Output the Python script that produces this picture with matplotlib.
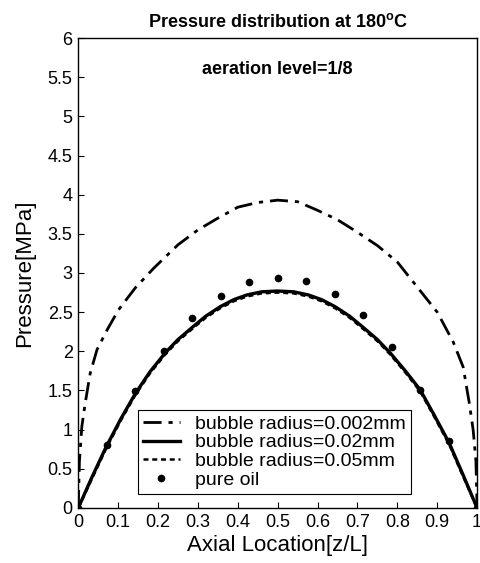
import matplotlib
matplotlib.use("Agg")
import matplotlib.pyplot as plt
from matplotlib.ticker import FixedLocator

plt.rcParams['font.family'] = ['Liberation Sans', 'DejaVu Sans']
plt.rcParams['mathtext.fontset'] = 'custom'
plt.rcParams['mathtext.rm'] = 'Liberation Sans'
plt.rcParams['mathtext.bf'] = 'Liberation Sans:bold'

# bubble radius = 0.002 mm
z_r002 = [0, 0.003, 0.009, 0.0175, 0.03, 0.047, 0.072, 0.101, 0.143, 0.189, 0.25,
          0.3, 0.35, 0.4, 0.45, 0.5, 0.55, 0.6, 0.65, 0.7, 0.75, 0.8, 0.85, 0.9,
          0.94, 0.965, 0.98, 0.99, 0.997, 1.0]
p_r002 = [0, 0.6, 1.04, 1.34, 1.72, 2.02, 2.27, 2.53, 2.81, 3.06, 3.36,
          3.55, 3.7, 3.84, 3.9, 3.93, 3.91, 3.8, 3.68, 3.52, 3.35, 3.14, 2.82, 2.5,
          2.12, 1.8, 1.35, 1.0, 0.6, 0]

# bubble radius = 0.02 mm
z_r02 = [0, 0.035, 0.07, 0.107, 0.143, 0.18, 0.218, 0.25, 0.289, 0.32, 0.356, 0.39,
         0.423, 0.46, 0.5, 0.54, 0.577, 0.61, 0.644, 0.68, 0.711, 0.75, 0.782, 0.82,
         0.857, 0.893, 0.93, 0.965, 1.0]
p_r02 = [0, 0.4, 0.78, 1.14, 1.46, 1.74, 1.98, 2.15, 2.32, 2.45, 2.57, 2.66,
         2.72, 2.76, 2.77, 2.76, 2.72, 2.66, 2.57, 2.45, 2.32, 2.15, 1.98, 1.75,
         1.51, 1.18, 0.83, 0.42, 0]

# bubble radius = 0.05 mm
z_r05 = [0, 0.035, 0.07, 0.107, 0.143, 0.18, 0.218, 0.25, 0.289, 0.32, 0.356, 0.39,
         0.423, 0.46, 0.5, 0.54, 0.577, 0.61, 0.644, 0.68, 0.711, 0.75, 0.782, 0.82,
         0.857, 0.893, 0.93, 0.965, 1.0]
p_r05 = [0, 0.38, 0.76, 1.12, 1.44, 1.72, 1.96, 2.13, 2.3, 2.43, 2.55, 2.64,
         2.7, 2.74, 2.75, 2.74, 2.7, 2.64, 2.55, 2.43, 2.3, 2.13, 1.96, 1.73,
         1.49, 1.16, 0.81, 0.4, 0]

# pure oil
z_oil = [0, 0.0714, 0.1429, 0.2143, 0.2857, 0.3571, 0.4286, 0.5, 0.5714, 0.6429,
         0.7143, 0.7857, 0.8571, 0.9286, 1.0]
p_oil = [0, 0.80, 1.49, 2.0, 2.42, 2.71, 2.88, 2.93, 2.90, 2.73,
         2.46, 2.05, 1.50, 0.85, 0]

x_ticks = [0, 0.1, 0.2, 0.3, 0.4, 0.5, 0.6, 0.7, 0.8, 0.9, 1]
x_tick_labels = ['0', '0.1', '0.2', '0.3', '0.4', '0.5', '0.6', '0.7', '0.8', '0.9', '1']
y_ticks = [0, 0.5, 1, 1.5, 2, 2.5, 3, 3.5, 4, 4.5, 5, 5.5, 6]
y_tick_labels = ['0', '0.5', '1', '1.5', '2', '2.5', '3', '3.5', '4', '4.5', '5', '5.5', '6']

fig = plt.figure(figsize=(4.8, 5.63), dpi=100)
ax = fig.add_axes([0.163, 0.0977, 0.831, 0.8348])

ax.plot(z_r002, p_r002, color='black', lw=2.0, linestyle=(0, (6.5, 2.5, 1.5, 2.5)),
        label='bubble radius=0.002mm')
ax.plot(z_r02, p_r02, color='black', lw=2.4, linestyle='-',
        label='bubble radius=0.02mm')
ax.plot(z_r05, p_r05, color='black', lw=1.8, linestyle=(0, (2.0, 1.5)),
        label='bubble radius=0.05mm')
ax.plot(z_oil, p_oil, linestyle='none', marker='o', markersize=4.5,
        color='black', label='pure oil')

ax.set_xlim(0, 1)
ax.set_ylim(0, 6)
ax.xaxis.set_major_locator(FixedLocator(x_ticks))
ax.set_xticklabels(x_tick_labels)
ax.yaxis.set_major_locator(FixedLocator(y_ticks))
ax.set_yticklabels(y_tick_labels)
ax.tick_params(direction='in', length=4, width=0.8, labelsize=13,
               top=False, right=False, pad=4)
for s in ax.spines.values():
    s.set_linewidth(1.0)

ax.set_xlabel('Axial Location[z/L]', fontsize=16, labelpad=3)
ax.set_ylabel('Pressure[MPa]', fontsize=16, labelpad=9)
ax.set_title(r'Pressure distribution at 180$^{\mathbf{o}}$C', fontsize=13,
             fontweight='bold', pad=8)
ax.text(0.5, 5.6, 'aeration level=1/8', fontsize=13, fontweight='bold',
        ha='center', va='center')

leg = ax.legend(loc='lower left', bbox_to_anchor=(0.15, 0.03), fontsize=14,
                frameon=True, fancybox=False, framealpha=1, edgecolor='black',
                handlelength=1.9, borderpad=0.25, labelspacing=0.06,
                handletextpad=0.8, borderaxespad=0)
leg.get_frame().set_linewidth(0.8)

fig.savefig('out.png', dpi=100)
